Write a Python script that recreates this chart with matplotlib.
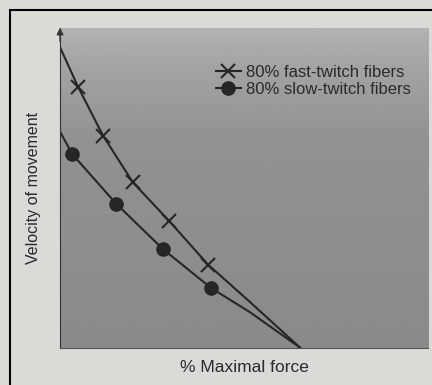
import matplotlib.pyplot as plt
import numpy as np
from matplotlib.patches import Rectangle

# valores (unidades relativas, 0-100)
fast_x = [0, 4.9, 11.7, 19.8, 29.6, 40.2, 51.6, 65.2]
fast_y = [94, 81.6, 66.3, 51.7, 39.7, 26.0, 14.3, 0]
fast_mx = [4.9, 11.7, 19.8, 29.6, 40.2]
fast_my = [81.6, 66.3, 51.7, 39.7, 26.0]

slow_x = [0, 3.3, 15.2, 28.0, 41.0, 51.6, 65.2]
slow_y = [67.6, 60.6, 45.1, 30.8, 18.7, 11.1, 0]
slow_mx = [3.3, 15.2, 28.0, 41.0]
slow_my = [60.6, 45.1, 30.8, 18.7]

plt.rcParams['font.family'] = ['Liberation Sans', 'DejaVu Sans']

fig = plt.figure(figsize=(4.32, 3.85), dpi=100)
fig.patch.set_facecolor('#dbdad7')
ax = fig.add_axes([0.139, 0.097, 0.852, 0.83])

# fondo gris: mas claro arriba, casi uniforme abajo
t = np.linspace(0, 1, 200)
shade = np.interp(t, [0, 0.12, 0.35, 1], [0.70, 0.64, 0.57, 0.54]).reshape(-1, 1)
ax.imshow(shade, extent=[0, 100, 0, 100], aspect='auto', cmap='gray',
          vmin=0, vmax=1, origin='upper', zorder=0)

col = '#262626'
ax.plot(fast_x, fast_y, color=col, lw=1.5, zorder=2)
ax.plot(slow_x, slow_y, color=col, lw=1.5, zorder=2)
ax.plot(fast_mx, fast_my, ls='none', marker='x', ms=10.5, mew=1.5, color=col, zorder=3)
ax.plot(slow_mx, slow_my, ls='none', marker='o', ms=9.5, color=col, zorder=3)

# leyenda
ax.plot([], [], color=col, lw=1.5, marker='x', ms=10, mew=1.5, label='80% fast-twitch fibers')
ax.plot([], [], color=col, lw=1.5, marker='o', ms=9.5, label='80% slow-twitch fibers')
h, l = ax.get_legend_handles_labels()
ax.legend(h, l, loc='upper left', bbox_to_anchor=(0.40, 0.91), frameon=False,
          fontsize=12, handlelength=1.5, handletextpad=0.3, labelspacing=0.1,
          labelcolor='#2a2a2a', borderpad=0)

ax.set_xlim(0, 100)
ax.set_ylim(0, 100)
ax.set_xticks([])
ax.set_yticks([])
for s in ['top', 'right']:
    ax.spines[s].set_visible(False)
ax.spines['left'].set_color('#333333')
ax.spines['bottom'].set_color('#555555')
ax.annotate('', xy=(0, 101), xytext=(0, 95), xycoords='data',
            arrowprops=dict(arrowstyle='-|>', color='#333333', lw=1), annotation_clip=False)

ax.set_xlabel('% Maximal force', fontsize=12.5, color='#2a2a2a', labelpad=9)
ax.set_ylabel('Velocity of movement', fontsize=11.5, color='#2a2a2a', labelpad=14)

# marco negro de la foto
fig.add_artist(Rectangle((10 / 432, -0.05), 1.2, 375 / 385 + 0.05, transform=fig.transFigure,
                         fill=False, ec='black', lw=1.5))

fig.savefig('out.png', dpi=100, facecolor=fig.get_facecolor())
